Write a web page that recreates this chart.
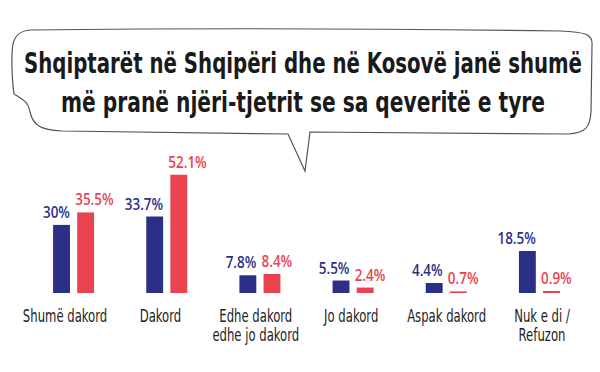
<!DOCTYPE html>
<html>
<head>
<meta charset="utf-8">
<script src="https://cdn.jsdelivr.net/npm/d3@7"></script>
<style>
  body { margin: 0; background: #ffffff; }
  svg { display: block; }
</style>
</head>
<body>
<div id="grafica"></div>
<script>
// datos
kategorite = ['Shumë dakord', 'Dakord', 'Edhe dakord edhe jo dakord', 'Jo dakord', 'Aspak dakord', 'Nuk e di / Refuzon']
etiketat   = [['Shumë dakord'], ['Dakord'], ['Edhe dakord', 'edhe jo dakord'], ['Jo dakord'], ['Aspak dakord'], ['Nuk e di /', 'Refuzon']]
seriaBlu   = [30, 33.7, 7.8, 5.5, 4.4, 18.5]
seriaKuq   = [35.5, 52.1, 8.4, 2.4, 0.7, 0.9]
seriet     = ['blu', 'kuq']
titulli    = ['Shqiptarët në Shqipëri dhe në Kosovë janë shumë', 'më pranë njëri-tjetrit se sa qeveritë e tyre']

ancho_total = 600
alto_total  = 372
baseline = 293

colores = d3
            .scaleOrdinal()
            .domain(seriet)
            .range(['#2c2f86', '#e8434e'])

svg = d3
        .select('#grafica')
        .append('svg')
        .attr('width', ancho_total)
        .attr('height', alto_total)

// burbuja del titulo
svg
  .append('path')
    .attr('d', 'M30,30 C200,28 420,29 560,31 C585,32 593,34 592,45 L591,112 C590,128 585,133 568,134 ' +
               'L310,132 L305,171 L288,134 L62,131 C40,130 33,125 30,112 C29,104 26,101 14,94 ' +
               'C12,80 11,55 13,44 C15,35 20,31 30,30 Z')
    .attr('fill', 'white')
    .attr('stroke', '#555')
    .attr('stroke-width', 1.2)

svg
  .selectAll('text.titulli')
  .data(titulli)
  .enter()
  .append('text')
    .attr('class', 'titulli')
    .attr('x', 303)
    .attr('y', (d, i) => 73 + i * 39)
    .attr('text-anchor', 'middle')
    .attr('font-family', 'DejaVu Sans Condensed, DejaVu Sans')
    .attr('font-weight', 'bold')
    .attr('font-size', '29px')
    .attr('fill', '#1a1a1a')
    .attr('textLength', (d, i) => i == 0 ? 558 : 484)
    .attr('lengthAdjust', 'spacingAndGlyphs')
    .text((d) => d)

// escaladores
x0 = d3
      .scaleBand()
      .domain(kategorite)
      .range([27, 586])

x1 = d3
      .scaleBand()
      .domain(seriet)
      .range([x0.bandwidth() / 2 - 20.5, x0.bandwidth() / 2 + 20.5])
      .paddingInner(0.3)

y = d3
      .scaleLinear()
      .domain([0, 60])
      .range([baseline, baseline - 60 * 2.27])

xEtiketa = d3
            .scalePoint()
            .domain(kategorite)
            .range([65, 542])

datos = kategorite.map((k, i) => ({
  kategoria: k,
  vlerat: [{ seria: 'blu', vlera: seriaBlu[i] }, { seria: 'kuq', vlera: seriaKuq[i] }]
}))

g = svg.append('g')

grupos = g
          .selectAll('g.grupo')
          .data(datos)
          .enter()
          .append('g')
            .attr('class', 'grupo')
            .attr('transform', (d) => `translate(${x0(d.kategoria)}, 0)`)

grupos
  .selectAll('rect')
  .data((d) => d.vlerat)
  .enter()
  .append('rect')
    .attr('x', (d) => x1(d.seria))
    .attr('y', (d) => y(d.vlera))
    .attr('width', x1.bandwidth())
    .attr('height', (d) => baseline - y(d.vlera))
    .attr('fill', (d) => colores(d.seria))

// valores encima de las barras
grupos
  .selectAll('text.vlera')
  .data((d) => d.vlerat)
  .enter()
  .append('text')
    .attr('class', 'vlera')
    .attr('transform', (d) => {
      xx = d.seria == 'blu' ? x1(d.seria) + x1.bandwidth() : x1(d.seria) - 2
      return `translate(${xx}, ${y(d.vlera) - 7}) scale(0.84, 1)`
    })
    .attr('text-anchor', (d) => d.seria == 'blu' ? 'end' : 'start')
    .attr('font-family', 'Open Sans, DejaVu Sans')
    .attr('font-weight', 600)
    .attr('font-size', '16px')
    .attr('fill', (d) => colores(d.seria))
    .text((d) => d.vlera + '%')

// etiquetas de categorias
etiq = g
        .selectAll('text.kategoria')
        .data(kategorite)
        .enter()
        .append('text')
          .attr('class', 'kategoria')
          .attr('transform', (d) => `translate(${xEtiketa(d)}, 322) scale(0.72, 1)`)
          .attr('text-anchor', 'middle')
          .attr('font-family', 'DejaVu Sans Condensed, DejaVu Sans')
          .attr('font-size', '18px')
          .attr('fill', '#222')

etiq
  .selectAll('tspan')
  .data((d, i) => etiketat[i])
  .enter()
  .append('tspan')
    .attr('x', 0)
    .attr('y', (d, i) => i * 19)
    .text((d) => d)
</script>
</body>
</html>
